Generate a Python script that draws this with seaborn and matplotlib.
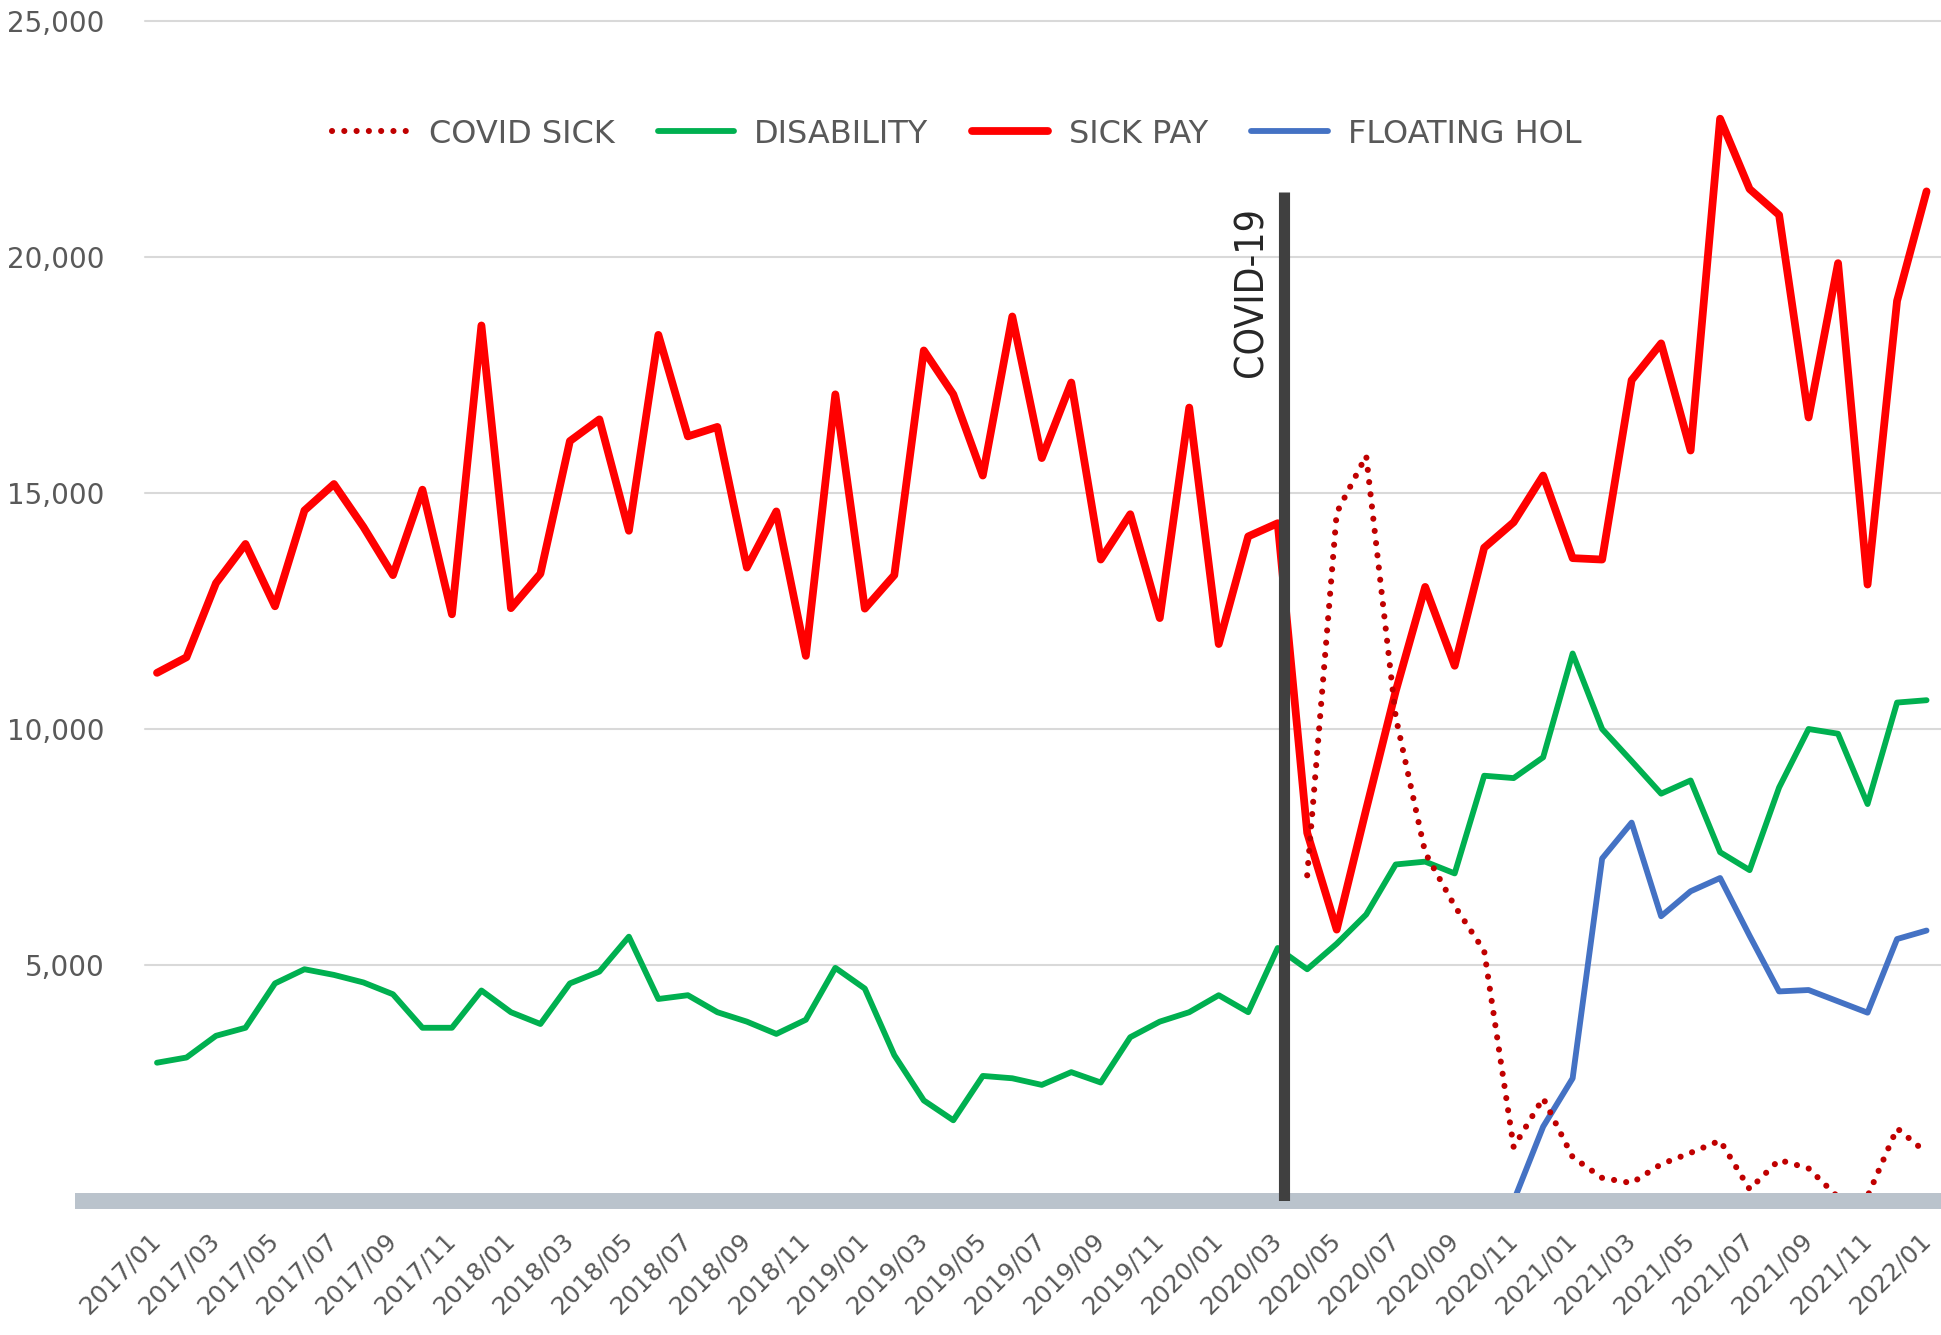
import numpy as np
import pandas as pd
import matplotlib
matplotlib.use("Agg")
import matplotlib.pyplot as plt
from matplotlib import font_manager
import seaborn as sns

# ---------------- data ----------------
months = [f"{y}/{m:02d}" for y in range(2017, 2023) for m in range(1, 13)][:61]

sick_pay = [
    11190, 11520, 13090, 13920, 12600, 14630, 15190, 14280, 13260, 15070, 12430, 18550,
    12560, 13290, 16100, 16560, 14200, 18350, 16200, 16400, 13420, 14610, 11550, 17090,
    12550, 13260, 18020, 17090, 15370, 18740, 15740, 17340, 13590, 14550, 12350, 16810,
    11800, 14080, 14360, 7800, 5750, 8300, 10800, 13010, 11340, 13840, 14380, 15370,
    13620, 13590, 17390, 18170, 15900, 22930, 21440, 20890, 16600, 19870, 13060, 19070,
    21390,
]

disability = [
    2930, 3040, 3500, 3670, 4610, 4910, 4790, 4630, 4380, 3670, 3670, 4460,
    4000, 3750, 4610, 4860, 5600, 4280, 4360, 4000, 3800, 3540, 3840, 4940,
    4500, 3090, 2130, 1710, 2650, 2600, 2460, 2730, 2510, 3470, 3800, 4000,
    4360, 4000, 5360, 4910, 5450, 6070, 7130, 7190, 6940, 9010, 8960, 9400,
    11600, 10000, 9320, 8630, 8910, 7390, 7010, 8760, 10000, 9900, 8410, 10560,
    10610,
]

covid_sick = [np.nan] * 39 + [
    6900, 14580, 15790, 10260, 7380, 6250, 5300, 1140, 2180,
    930, 490, 380, 780, 1020, 1280, 250, 870, 690, 80, 100, 1540,
    1020,
]

floating_hol = [np.nan] * 46 + [
    0, 1575,
    2600, 7256, 8017, 6033, 6562, 6843, 5620, 4440, 4470, 4230, 3990, 5550,
    5730,
]

covid_marker_x = 38.2      # position of the COVID-19 marker line (just after 2020/03)
covid_marker_top = 21380

# ---------------- style ----------------
sns.set_theme(style="white")
plt.rcParams["font.family"] = ["DejaVu Sans"]

TXT = "#595959"
fig = plt.figure(figsize=(19.41, 13.35), dpi=100)
ax = fig.add_axes([145 / 1941, 1 - 1201 / 1335, 1 - 145 / 1941, (1201 - 21) / 1335])

idx = np.arange(len(months))
df = pd.DataFrame({
    "idx": idx,
    "COVID SICK": covid_sick,
    "DISABILITY": disability,
    "SICK PAY": sick_pay,
    "FLOATING HOL": floating_hol,
})

styles = {
    "COVID SICK": dict(color="#C00000", lw=4.4, z=6),
    "DISABILITY": dict(color="#00B050", lw=4.2, z=3),
    "SICK PAY": dict(color="#FF0000", lw=5.6, z=4),
    "FLOATING HOL": dict(color="#4472C4", lw=4.2, z=5),
}

handles = {}
for name in ["COVID SICK", "DISABILITY", "SICK PAY", "FLOATING HOL"]:
    st = styles[name]
    sub = df[["idx", name]].dropna()
    sns.lineplot(data=sub, x="idx", y=name, ax=ax, color=st["color"],
                 linewidth=st["lw"], zorder=st["z"], label=name)
    line = ax.get_lines()[-1]
    if name == "COVID SICK":
        line.set_linestyle((0, (0.01, 2.0)))
        line.set_dash_capstyle("round")
        line.set_dash_joinstyle("round")
    else:
        line.set_solid_joinstyle("round")
        line.set_solid_capstyle("round")
    handles[name] = line

# axes limits / grid
ax.set_xlim(-0.407, 60.49)
ax.set_ylim(0, 25000)
for v in range(5000, 25001, 5000):
    ax.axhline(v, color="#D9D9D9", lw=1.5, zorder=1, clip_on=False)

# thick base line at zero
ax.axhline(0, xmin=-0.039, xmax=1.0, color="#BAC3CC", lw=11.5, zorder=7,
           clip_on=False, solid_capstyle="butt")

# COVID marker
ax.vlines(covid_marker_x, 0, covid_marker_top, color="#404040", lw=8, zorder=8)
narrow = None
for fam in ["Liberation Sans Narrow"]:
    try:
        font_manager.findfont(fam, fallback_to_default=False)
        narrow = fam
    except Exception:
        pass
if narrow:
    ax.text(37.76, 19250, "COVID-19", rotation=90, ha="right", va="center",
            family=narrow, fontsize=33, color="#262626", zorder=9)
else:
    ax.text(37.76, 19250, "COVID-19", rotation=90, ha="right", va="center",
            fontsize=28, color="#262626", zorder=9, fontstretch="condensed")

for s in ax.spines.values():
    s.set_visible(False)

ax.set_xticks(idx[::2])
ax.set_xticklabels(months[::2], rotation=45, ha="right", va="center",
                   rotation_mode="anchor", fontsize=18, color=TXT)
ax.set_yticks([5000, 10000, 15000, 20000, 25000])
ax.set_yticklabels([f"{v:,}" for v in [5000, 10000, 15000, 20000, 25000]],
                   fontsize=20, color=TXT)
ax.tick_params(axis="x", length=0, pad=26)
ax.tick_params(axis="y", length=0, pad=29)
ax.set_xlabel("")
ax.set_ylabel("")

# legend
leg = ax.legend(
    [handles[n] for n in ["COVID SICK", "DISABILITY", "SICK PAY", "FLOATING HOL"]],
    ["COVID SICK", "DISABILITY", "SICK PAY", "FLOATING HOL"],
    loc="center", bbox_to_anchor=(0.4928, 0.8996), bbox_transform=fig.transFigure,
    ncol=4, frameon=False, fontsize=23, handlelength=2.4, handletextpad=0.63,
    columnspacing=1.35, borderpad=0,
)
for t in leg.get_texts():
    t.set_color(TXT)

fig.savefig("out.png", dpi=100, facecolor="white")
